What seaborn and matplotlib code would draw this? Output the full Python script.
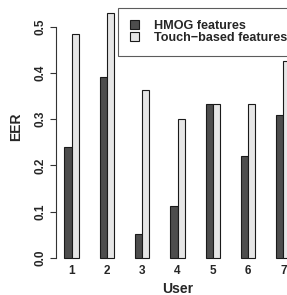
import pandas as pd
import matplotlib.pyplot as plt
import seaborn as sns

users = ["1", "2", "3", "4", "5", "6", "7"]
hmog = [0.239, 0.392, 0.052, 0.112, 0.332, 0.220, 0.310]
touch = [0.485, 0.530, 0.362, 0.300, 0.332, 0.332, 0.425]
series = ["HMOG features", "Touch\u2212based features"]
colors = ["#4d4d4d", "#e6e6e6"]

df = pd.DataFrame({
    "User": users * 2,
    "EER": hmog + touch,
    "Feature": [series[0]] * len(users) + [series[1]] * len(users),
})

sns.set_style("white")
plt.rcParams["font.family"] = ["Liberation Sans", "DejaVu Sans"]
plt.rcParams["font.weight"] = "bold"

fig = plt.figure(figsize=(2.87, 2.95), dpi=100)
ax = fig.add_axes([0.195, 0.1098, 0.847, 0.8644])

sns.barplot(data=df, x="User", y="EER", hue="Feature", hue_order=series,
            palette=colors, width=0.41, edgecolor="#1a1a1a", linewidth=0.8,
            ax=ax)

ax.set_xlim(-0.445, 6.445)
ax.set_ylim(-0.01, 0.541)

for s in ["top", "right", "bottom"]:
    ax.spines[s].set_visible(False)
ax.spines["left"].set_color("#333333")
ax.spines["left"].set_linewidth(0.8)
ax.spines["left"].set_bounds(0, 0.5)

ax.set_yticks([0, 0.1, 0.2, 0.3, 0.4, 0.5])
ax.set_yticklabels(["0.0", "0.1", "0.2", "0.3", "0.4", "0.5"],
                   rotation=90, va="center", fontsize=8.5, fontweight="bold")
ax.tick_params(axis="y", length=4.5, width=0.8, color="#333333", pad=2, left=True)
ax.tick_params(axis="x", length=0, pad=1.7, labelsize=8.5)
for t in ax.get_xticklabels():
    t.set_fontweight("bold")

ax.set_xlabel("User", fontsize=10, fontweight="bold")
ax.set_ylabel("EER", fontsize=10, fontweight="bold")
ax.xaxis.set_label_coords(0.5, -0.076)
ax.yaxis.set_label_coords(-0.135, 0.532)

leg = ax.legend(loc="upper right", bbox_to_anchor=(1.0, 1.0), borderaxespad=0,
                fancybox=False, frameon=True, prop={"size": 9.1, "weight": "bold"},
                handlelength=0.72, handleheight=0.72, handletextpad=1.15,
                labelspacing=0.05, borderpad=0.95)
leg.get_frame().set_edgecolor("#333333")
leg.get_frame().set_linewidth(0.8)

fig.savefig("out.png", dpi=100)
